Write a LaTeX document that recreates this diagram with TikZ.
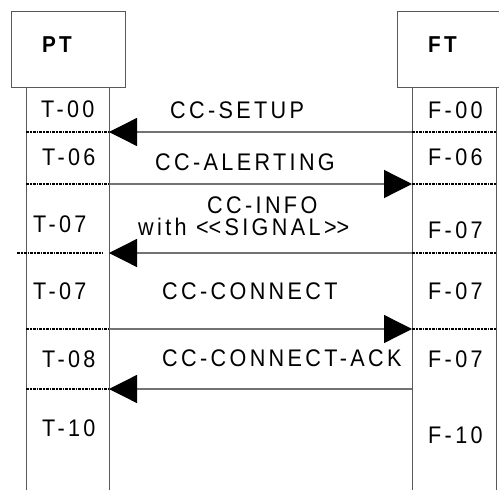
\documentclass[tikz,border=0pt]{standalone}
\usepackage{fontspec}
\setmainfont{Liberation Sans}[LetterSpace=14,FakeStretch=0.9]
\usetikzlibrary{arrows.meta}

\def\ptl{26}
\def\ptr{109}
\def\ftl{412}
\def\ftr{496}

\begin{document}
\begin{tikzpicture}[x=1pt,y=-1pt,
  lifeline/.style={line width=1pt,color=black!65},
  sep/.style={line width=1.6pt,dash pattern=on 3pt off 1pt on 1.5pt off 1pt},
  msg/.style={line width=1.3pt,color=black!55,-{Triangle[length=28pt,width=28pt,black]}},
  lbl/.style={anchor=base west,inner sep=0pt,font=\fontsize{24}{27}\selectfont},
  head/.style={lbl,font=\fontsize{23}{27}\selectfont\bfseries}]
\useasboundingbox (0,0) rectangle (499,490);
\clip (0,0) rectangle (499,490);

\draw[lifeline] (11,11) rectangle (125,87);
\draw[lifeline] (515,11) -- (397,11) -- (397,87) -- (515,87);
\node[head] (pt) at (42,52) {PT};
\node[head] (ft) at (428,52) {FT};

\draw[lifeline] (\ptl,87) -- (\ptl,490);
\draw[lifeline] (\ptr,87) -- (\ptr,490);
\draw[lifeline] (\ftl,87) -- (\ftl,490);
\draw[lifeline] (\ftr,87) -- (\ftr,490);

\foreach \y in {132,184,329,389}
  \draw[sep] (\ptl,\y) -- (\ptr,\y);
\draw[sep] (17,253) -- (103,253);
\foreach \y in {132,184,253,329}
  \draw[sep] (\ftl,\y) -- (\ftr,\y);

\coordinate (t00) at (\ptr,132);
\coordinate (f00) at (\ftl,132);
\coordinate (t06) at (\ptr,184);
\coordinate (f06) at (\ftl,184);
\coordinate (t07) at (\ptr,253);
\coordinate (f07) at (\ftl,253);
\coordinate (t07b) at (\ptr,329);
\coordinate (f07b) at (\ftl,329);
\coordinate (t08) at (\ptr,389);
\coordinate (f08) at (\ftl,389);

\draw[msg] (f00) -- (t00);
\draw[msg] (t06) -- (f06);
\draw[msg] (f07) -- (t07);
\draw[msg] (t07b) -- (f07b);
\draw[msg] (f08) -- (t08);

\node[lbl] (setup) at (170,118) {CC-SETUP};
\node[lbl] (alert) at (155,170) {CC-ALERTING};
\node[lbl] (info) at (207,213) {CC-INFO};
\node[lbl] (signal) at (138,235) {with <\kern0pt<SIGNAL>\kern0pt>};
\node[lbl] (conn) at (162,299) {CC-CONNECT};
\node[lbl] (ack) at (162,366) {CC-CONNECT-ACK};

\node[lbl] (tl0) at (41,117) {T-00};
\node[lbl] (tl1) at (42,165) {T-06};
\node[lbl] (tl2) at (33,232) {T-07};
\node[lbl] (tl3) at (33,299) {T-07};
\node[lbl] (tl4) at (42,367) {T-08};
\node[lbl] (tl5) at (42,436) {T-10};

\node[lbl] (fl0) at (428,118) {F-00};
\node[lbl] (fl1) at (428,165) {F-06};
\node[lbl] (fl2) at (428,238) {F-07};
\node[lbl] (fl3) at (428,299) {F-07};
\node[lbl] (fl4) at (428,367) {F-07};
\node[lbl] (fl5) at (428,443) {F-10};
\end{tikzpicture}
\end{document}
